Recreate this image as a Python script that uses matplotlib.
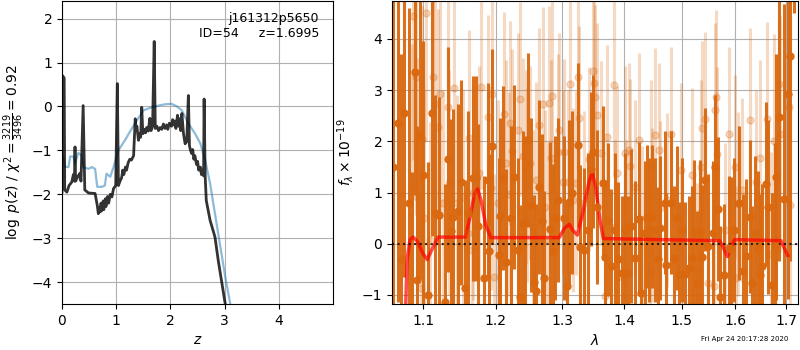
import matplotlib
matplotlib.use('Agg')
import matplotlib.pyplot as plt
from matplotlib.ticker import NullLocator, FixedLocator, FixedFormatter

# ---- left panel: log p(z) ----
z_pz = [0.00, 0.01, 0.04, 0.05, 0.09, 0.13, 0.18, 0.21, 0.23, 0.24, 0.25, 0.29,
        0.33, 0.35, 0.39, 0.42, 0.49, 0.61, 0.65, 0.67, 0.69, 0.70, 0.72, 0.73,
        0.76, 0.77, 0.80, 0.81, 0.84, 0.86, 0.89, 0.92, 0.95, 0.99, 1.02, 1.04,
        1.07, 1.10, 1.12, 1.14, 1.17, 1.19, 1.22, 1.25, 1.28, 1.32, 1.35, 1.37,
        1.38, 1.41, 1.43, 1.45, 1.47, 1.49, 1.52, 1.54, 1.56, 1.59, 1.62, 1.64,
        1.67, 1.70, 1.72, 1.75, 1.78, 1.81, 1.84, 1.87, 1.90, 1.93, 1.95, 1.98,
        2.02, 2.04, 2.06, 2.08, 2.10, 2.13, 2.15, 2.17, 2.19, 2.21, 2.24, 2.27,
        2.30, 2.33, 2.35, 2.37, 2.39, 2.41, 2.43, 2.45, 2.48, 2.50, 2.52, 2.55,
        2.57, 2.59, 2.61, 2.62, 2.64, 2.66, 2.73, 2.82, 2.88, 3.01]
logp = [-1.95, 0.70, 0.65, -1.90, -1.95, -1.80, -1.72, -1.55, -1.70, -0.92, -1.70, -1.60,
        -1.52, -1.70, 0.02, -1.90, -1.97, -1.98, -2.25, -2.44, -2.30, -2.40, -2.20, -2.38,
        -2.15, -2.35, -2.10, -2.28, -2.05, -2.20, -2.00, -2.06, -1.87, -1.80, 0.52, -1.80,
        -1.70, -1.62, -1.45, -1.55, -1.38, -1.45, -1.28, -1.20, -1.22, -1.12, -0.28, -0.55,
        -0.45, -0.77, -0.62, -0.70, -0.02, -0.62, -0.52, -0.60, -0.48, -0.56, -0.27, -0.55,
        -0.45, 1.48, -0.50, -0.45, -0.55, -0.48, -0.52, -0.40, -0.50, -0.42, -0.52, -0.38,
        -0.45, -0.30, -0.42, -0.33, -0.50, -0.20, -0.45, -0.28, -0.55, -0.16, -0.62, -0.85,
        -0.80, 0.25, -0.90, -1.00, -1.07, -0.98, -1.20, -1.12, -1.32, -1.25, -1.45, -1.38,
        -1.55, -1.45, -1.58, 0.17, -1.60, -2.14, -2.59, -2.97, -3.50, -4.50]

z_prior = [0.02, 0.05, 0.12, 0.15, 0.21, 0.24, 0.30, 0.36, 0.39, 0.49, 0.55, 0.61,
           0.65, 0.73, 0.79, 0.82, 0.89, 0.95, 1.04, 1.16, 1.25, 1.38, 1.50, 1.65,
           1.78, 1.90, 2.02, 2.12, 2.21, 2.33, 2.45, 2.55, 2.64, 2.73, 2.82, 2.92,
           3.01, 3.10]
logp_prior = [-1.15, -1.37, -1.38, -1.14, -1.14, -1.30, -1.06, -1.11, -1.38, -1.42, -1.38, -1.42,
              -1.83, -1.83, -1.80, -1.53, -1.60, -1.38, -1.00, -0.77, -0.58, -0.32, -0.09, -0.02,
              0.02, 0.05, 0.06, 0.00, -0.09, -0.39, -0.61, -0.84, -1.23, -1.75, -2.44, -3.20,
              -3.88, -4.48]

# ---- right panel: spectrum (flux in 1e-19) ----
wave_a = [1.0615, 1.0672, 1.0705, 1.0750, 1.0810, 1.0850, 1.0893, 1.0919, 1.0959, 1.1000,
          1.1066, 1.1120, 1.1160, 1.1214, 1.1296, 1.1337, 1.1378, 1.1406, 1.1475, 1.1517,
          1.1559, 1.1601, 1.1671, 1.1714, 1.1742, 1.1827, 1.1885, 1.1899, 1.1942, 1.2044,
          1.2058, 1.2102, 1.2146, 1.2219, 1.2264, 1.2323, 1.2353, 1.2398, 1.2428, 1.2473,
          1.2519, 1.2564, 1.2595, 1.2641, 1.2687, 1.2717, 1.2810, 1.2856, 1.2887, 1.2934,
          1.3028, 1.3076, 1.3107, 1.3155, 1.3251, 1.3283, 1.3347, 1.3412, 1.3461, 1.3493,
          1.3558, 1.3641, 1.3674, 1.3723, 1.3773, 1.3840, 1.3890, 1.3957, 1.4008, 1.4059,
          1.4110, 1.4178, 1.4247, 1.4281, 1.4350, 1.4385, 1.4420, 1.4473, 1.4525, 1.4578,
          1.4613, 1.4702, 1.4720, 1.4809, 1.4863, 1.4917, 1.4953, 1.5008, 1.5062, 1.5135,
          1.5190, 1.5226, 1.5282, 1.5337, 1.5374, 1.5431, 1.5487, 1.5580, 1.5618, 1.5675,
          1.5713, 1.5789, 1.5885, 1.5923, 1.5980, 1.6058, 1.6136, 1.6195, 1.6273, 1.6313,
          1.6372, 1.6431, 1.6471, 1.6511, 1.6591, 1.6631, 1.6712, 1.6773, 1.6793, 1.6854,
          1.6957, 1.7039, 1.7080, 1.7160]
flux_a = [1.50, 2.36, -0.30, 2.55, 0.80, -1.60, 3.35, -0.70, 2.12, 1.35,
          -1.00, 2.55, 0.60, 0.57, -1.13, 1.65, 0.24, 0.53, 0.63, 1.20,
          -0.86, 0.60, 1.28, 1.28, 0.34, -0.67, 1.24, -0.15, 1.90, -0.22,
          0.55, 1.28, -0.35, 0.50, 1.30, -0.12, -1.05, 0.40, 0.40, 2.03,
          0.76, -0.74, -0.93, 1.10, 0.45, -0.67, 0.29, -0.15, 0.50, 0.86,
          0.50, -0.83, 0.82, 1.00, 1.93, -0.06, -0.12, 0.27, 1.46, 1.80,
          0.72, 1.19, -0.26, 0.47, -0.44, 0.27, -0.30, -0.57, 0.27, -0.57,
          0.35, -0.27, 0.49, -0.96, 0.21, 0.53, 0.27, 0.53, 0.27, -0.30,
          0.31, 0.80, -0.41, 0.80, -0.27, 0.50, -0.59, 0.27, -0.59, -0.47,
          -0.27, 0.23, -0.76, 0.23, -0.25, 1.25, -0.04, 0.21, 1.50, 0.68,
          -1.05, -0.62, -0.08, -0.10, 0.27, 0.80, -0.53, -0.23, 0.53, -0.76,
          0.21, -0.08, -0.62, -0.44, 1.17, 0.72, -0.80, -0.04, 1.30, 2.47,
          0.88, 2.92, 3.66, 6.00]
err_a = [4.0, 3.5, 4.0, 3.2, 3.8, 3.0, 2.4, 3.0, 2.8, 2.6,
         2.6, 2.4, 2.3, 2.3, 2.3, 2.2, 2.2, 2.1, 2.1, 2.0,
         2.1, 2.0, 2.0, 2.0, 2.0, 2.0, 1.9, 1.9, 1.9, 1.9,
         1.9, 1.8, 1.8, 1.8, 1.8, 1.8, 1.8, 1.8, 1.7, 1.7,
         1.7, 1.7, 1.7, 1.7, 1.7, 1.7, 1.7, 1.7, 1.6, 1.6,
         1.6, 1.6, 1.6, 1.6, 1.6, 1.6, 1.6, 1.5, 1.5, 1.5,
         1.5, 1.5, 1.5, 1.5, 1.5, 1.5, 1.5, 1.5, 1.5, 1.5,
         1.5, 1.5, 1.5, 1.5, 1.4, 1.4, 1.4, 1.4, 1.4, 1.4,
         1.4, 1.4, 1.4, 1.4, 1.4, 1.4, 1.4, 1.4, 1.4, 1.4,
         1.4, 1.4, 1.4, 1.4, 1.4, 1.4, 1.4, 1.4, 1.4, 1.4,
         1.4, 1.4, 1.4, 1.4, 1.4, 1.5, 1.5, 1.5, 1.5, 1.5,
         1.5, 1.5, 1.6, 1.6, 1.6, 1.7, 1.8, 2.0, 2.4, 2.8,
         3.8, 4.0, 4.0, 1.5]

wave_b = [1.0854, 1.0867, 1.0907, 1.0920, 1.0973, 1.0986, 1.1013, 1.1040, 1.1093, 1.1134,
          1.1160, 1.1201, 1.1228, 1.1269, 1.1337, 1.1351, 1.1420, 1.1461, 1.1545, 1.1601,
          1.1615, 1.1657, 1.1671, 1.1756, 1.1785, 1.1885, 1.1927, 1.1942, 1.1971, 1.2029,
          1.2117, 1.2146, 1.2190, 1.2205, 1.2234, 1.2323, 1.2353, 1.2398, 1.2443, 1.2458,
          1.2504, 1.2549, 1.2595, 1.2641, 1.2702, 1.2733, 1.2779, 1.2794, 1.2825, 1.2840,
          1.2934, 1.2950, 1.3012, 1.3028, 1.3091, 1.3123, 1.3171, 1.3219, 1.3251, 1.3267,
          1.3347, 1.3428, 1.3493, 1.3509, 1.3526, 1.3558, 1.3608, 1.3674, 1.3707, 1.3823,
          1.3840, 1.3873, 1.3890, 1.4008, 1.4025, 1.4076, 1.4093, 1.4178, 1.4247, 1.4299,
          1.4438, 1.4455, 1.4473, 1.4525, 1.4596, 1.4613, 1.4738, 1.4809, 1.4990, 1.5190,
          1.5282, 1.5319, 1.5356, 1.5374, 1.5431, 1.5487, 1.5599, 1.5618, 1.5637, 1.5656,
          1.5808, 1.5885, 1.5999, 1.6019, 1.6039, 1.6117, 1.6273, 1.6392, 1.6471, 1.6611,
          1.6692, 1.6753, 1.6854, 1.6875, 1.7059, 1.7080]
flux_b = [1.11, 4.44, 3.26, 0.92, -0.86, 2.05, 0.50, 4.50, 0.08, 3.26,
          2.73, 2.28, 2.92, 0.80, 2.67, 1.19, 3.04, 0.80, 0.92, 0.21,
          2.07, -0.12, 1.00, 1.38, 3.06, 2.47, 1.09, 2.92, -0.64, 0.80,
          2.53, 1.58, 0.97, 2.36, 1.81, 2.22, 2.83, 1.72, 1.50, 1.15,
          1.58, 0.33, 1.25, 2.32, 2.73, 0.72, 0.08, 2.75, 1.68, 2.88,
          1.80, 2.22, 1.21, 1.80, 1.20, 3.12, 0.86, 1.19, 3.26, 2.45,
          0.80, 1.65, 3.37, 3.14, 2.87, 2.51, 1.77, -1.03, 2.08, 3.10,
          0.33, 1.38, -0.64, 1.77, 0.33, 1.83, 1.52, 1.11, 2.03, 0.21,
          -0.57, 1.50, 0.57, 2.12, 1.83, 0.70, 0.86, 2.14, 1.44, 1.35,
          -0.51, -1.03, 1.50, 2.26, 2.44, -0.76, -0.82, 2.61, 2.87, 1.75,
          0.27, 2.14, 1.50, -0.67, 0.78, 1.05, 2.42, 1.21, 1.68, 2.44,
          -0.21, 2.00, 3.12, 2.14, 2.67, 0.76]
err_b = [2.8, 2.8, 2.7, 2.7, 2.6, 2.6, 2.5, 2.5, 2.3, 2.3,
         2.3, 2.3, 2.3, 2.2, 2.2, 2.2, 2.2, 2.1, 2.1, 2.1,
         2.1, 2.1, 2.1, 2.1, 2.0, 2.0, 2.0, 2.0, 2.0, 2.0,
         2.0, 2.0, 2.0, 2.0, 2.0, 1.9, 1.9, 1.9, 1.9, 1.9,
         1.9, 1.9, 1.9, 1.9, 1.9, 1.9, 1.9, 1.9, 1.9, 1.9,
         1.9, 1.9, 1.8, 1.8, 1.8, 1.8, 1.8, 1.8, 1.8, 1.8,
         1.8, 1.8, 1.8, 1.8, 1.8, 1.8, 1.8, 1.8, 1.8, 1.8,
         1.7, 1.7, 1.7, 1.7, 1.7, 1.7, 1.7, 1.7, 1.7, 1.7,
         1.7, 1.7, 1.7, 1.7, 1.7, 1.7, 1.7, 1.7, 1.7, 1.7,
         1.7, 1.7, 1.7, 1.7, 1.7, 1.7, 1.7, 1.7, 1.7, 1.7,
         1.7, 1.7, 1.8, 1.8, 1.8, 1.8, 1.8, 1.8, 1.9, 1.9,
         2.0, 2.1, 2.3, 2.3, 2.7, 2.8]

wave_model = [1.0745, 1.0790, 1.0828, 1.0867, 1.0920, 1.1000, 1.1053, 1.1120, 1.1200, 1.1573,
              1.1640, 1.1700, 1.1742, 1.1790, 1.1860, 1.1929, 1.2950, 1.3030, 1.3107, 1.3170,
              1.3235, 1.3320, 1.3420, 1.3475, 1.3530, 1.3600, 1.3656, 1.5700, 1.5780, 1.5845,
              1.5920, 1.5980, 1.6896, 1.6970, 1.7035]
flux_model = [-2.50, -0.30, 0.08, 0.13, 0.05, -0.20, -0.31, -0.10, 0.13, 0.13,
              0.55, 0.98, 1.07, 0.85, 0.35, 0.12, 0.12, 0.30, 0.38, 0.25,
              0.17, 0.60, 1.20, 1.40, 1.10, 0.45, 0.10, 0.06, -0.10, -0.25,
              -0.05, 0.08, 0.06, -0.10, -0.23]

wave_ticks = [1.1, 1.2, 1.3, 1.4, 1.5, 1.6, 1.7]

orange = '#d9680f'

fig = plt.figure(figsize=(8, 3.5), dpi=100)
ax1 = fig.add_axes([0.0775, 0.131, 0.339, 0.866])
ax2 = fig.add_axes([0.49, 0.131, 0.5075, 0.866])

# left: redshift PDF
ax1.plot(z_prior, logp_prior, color='tab:blue', alpha=0.5, lw=1.6)
ax1.plot(z_pz, logp, color='k', alpha=0.8, lw=2)
ax1.set_xlim(0, 5)
ax1.set_ylim(-4.5, 2.4)
ax1.set_xticks([0, 1, 2, 3, 4])
ax1.grid()
ax1.set_xlabel(r'$z$')
ax1.set_ylabel(r'$\log\ p(z)$ / $\chi^2=\frac{3219}{3496}=0.92$')
ax1.text(0.948, 0.965, 'j161312p5650\nID=54     z=1.6995', ha='right', va='top',
         transform=ax1.transAxes, fontsize=9)

# right: spectrum
ax2.errorbar(wave_b, flux_b, yerr=err_b, marker='o', linestyle='none', color=orange,
             alpha=0.25, markersize=5, elinewidth=2.2, capsize=0)
ax2.errorbar(wave_a, flux_a, yerr=err_a, marker='o', linestyle='none', color=orange,
             alpha=0.95, markersize=5, elinewidth=2.2, capsize=0)
ax2.plot(wave_model, flux_model, color='red', alpha=0.7, lw=2.5)
ax2.set_xscale('log')
ax2.set_xlim(1.0596, 1.7246)
ax2.plot([1.0596, 1.7246], [0, 0], color='k', linestyle=':', lw=1.5, alpha=0.8)
ax2.set_ylim(-1.18, 4.74)
ax2.xaxis.set_major_locator(FixedLocator(wave_ticks))
ax2.xaxis.set_major_formatter(FixedFormatter([f'{w:.1f}' for w in wave_ticks]))
ax2.xaxis.set_minor_locator(NullLocator())
ax2.grid()
ax2.set_xlabel(r'$\lambda$')
ax2.set_ylabel(r'$f_\lambda\times10^{-19}$')

fig.text(0.985, 0.022, 'Fri Apr 24 20:17:28 2020', ha='right', va='bottom', fontsize=5)

fig.savefig('out.png', dpi=100)
